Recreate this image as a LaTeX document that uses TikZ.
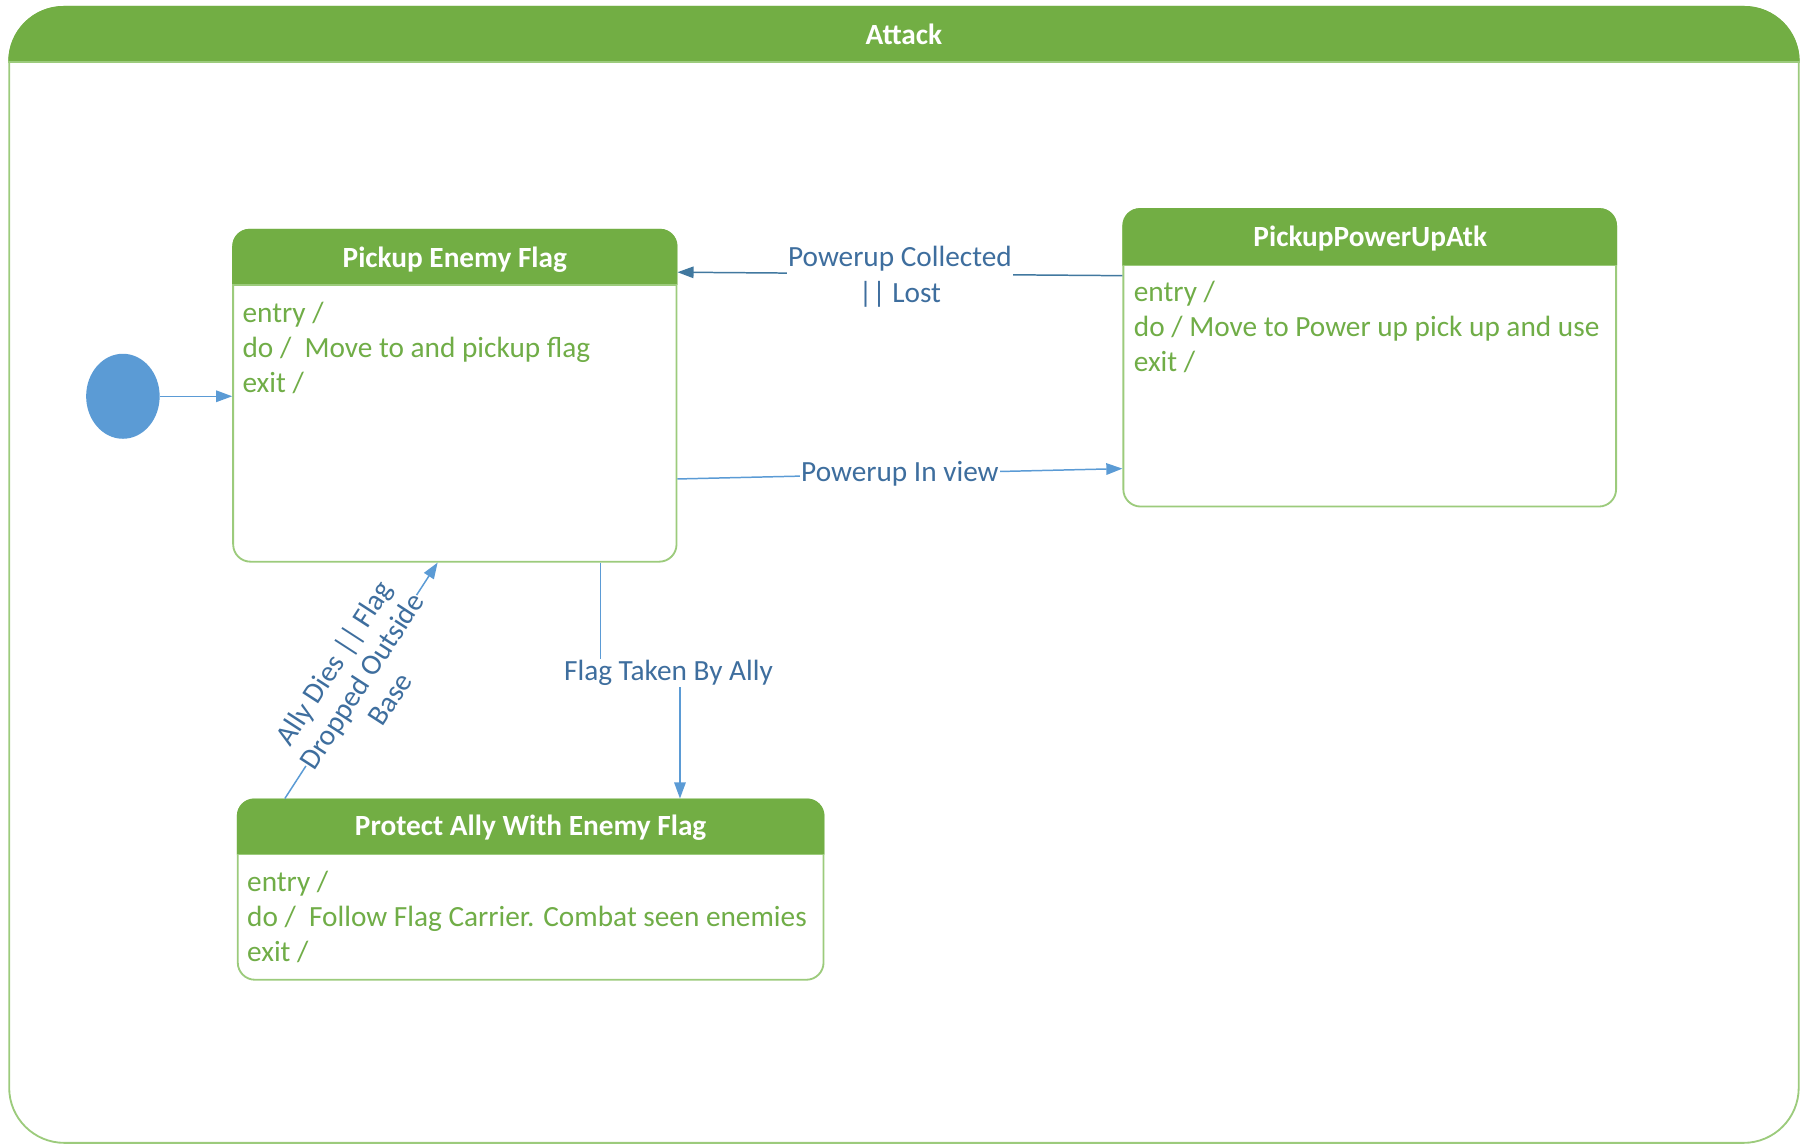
\documentclass[tikz,border=0pt]{standalone}
\usepackage{fontspec}
\setmainfont{Carlito}
\usetikzlibrary{arrows.meta,shapes.geometric}
\definecolor{hdrgreen}{HTML}{72AE44}
\definecolor{edgegreen}{HTML}{9CCB7C}
\definecolor{txtgreen}{HTML}{70AD47}
\definecolor{lineblue}{HTML}{5B9BD5}
\definecolor{darkblue}{HTML}{41789F}
\definecolor{lblblue}{HTML}{3E6E9E}
\definecolor{initblue}{HTML}{5B9BD5}

\begin{document}
\begin{tikzpicture}[x=1pt,y=-1pt,
  statebox/.style={draw=edgegreen, line width=1.6pt, rounded corners=15pt, inner sep=0pt, fill=white},
  hdrtext/.style={text=white, font=\fontsize{25.5}{30}\selectfont\bfseries, inner sep=0pt},
  bodytext/.style={text=txtgreen, font=\fontsize{25.5}{30.5}\selectfont, align=left, inner sep=0pt, anchor=north west},
  conn/.style={draw=lineblue, line width=1.3pt, -{Triangle[length=14pt,width=10pt]}},
  lbl/.style={fill=white, text=lblblue, font=\fontsize{25.5}{31}\selectfont, inner sep=1pt}
]
\useasboundingbox (0,0) rectangle (1568,996);

% outer composite state
\node[draw=edgegreen, line width=1.6pt, rounded corners=48pt, minimum width=1558pt,
      minimum height=989pt, inner sep=0pt] (attack) at (787,500.5) {};
\fill[hdrgreen] (attack.west |- 0,54) {[rounded corners=48pt] -- (attack.north west) -- (attack.north east)} -- (attack.east |- 0,54) -- cycle;
\draw[edgegreen, line width=1.2pt] (attack.west |- 0,54) -- (attack.east |- 0,54);
\node[hdrtext] (attack-title) at (787,30) {Attack};

% Pickup Enemy Flag
\node[statebox, minimum width=386pt, minimum height=289pt] (pef) at (396,344.5) {};
\fill[hdrgreen] (pef.west |- 0,248) {[rounded corners=15pt] -- (pef.north west) -- (pef.north east)} -- (pef.east |- 0,248) -- cycle;
\draw[edgegreen, line width=1.2pt] (pef.west |- 0,248) -- (pef.east |- 0,248);
\node[hdrtext] (pef-title) at (396,226) {Pickup Enemy Flag};
\node[bodytext] (pef-body) at (211,262.5) {entry /\\do /~~Move to and pickup flag\\exit /};

% PickupPowerUpAtk
\node[statebox, minimum width=429pt, minimum height=259pt] (ppu) at (1192.5,311.5) {};
\fill[hdrgreen] (ppu.west |- 0,231) {[rounded corners=15pt] -- (ppu.north west) -- (ppu.north east)} -- (ppu.east |- 0,231) -- cycle;
\draw[edgegreen, line width=1.2pt] (ppu.west |- 0,231) -- (ppu.east |- 0,231);
\node[hdrtext] (ppu-title) at (1193,208) {PickupPowerUpAtk};
\node[bodytext] (ppu-body) at (987,244.5) {entry /\\do / Move to Power up pick up and use\\exit /};

% Protect Ally With Enemy Flag
\node[statebox, minimum width=510pt, minimum height=157pt] (prot) at (462,774.5) {};
\fill[hdrgreen] (prot.west |- 0,744) {[rounded corners=15pt] -- (prot.north west) -- (prot.north east)} -- (prot.east |- 0,744) -- cycle;
\draw[edgegreen, line width=1.2pt] (prot.west |- 0,744) -- (prot.east |- 0,744);
\node[hdrtext] (prot-title) at (462,721) {Protect Ally With Enemy Flag};
\node[bodytext] (prot-body) at (215,758.5) {entry /\\do /~~Follow Flag Carrier. Combat seen enemies\\exit /};

% initial pseudo-state
\node[ellipse, fill=initblue, minimum width=64pt, minimum height=74pt, inner sep=0pt] (init) at (107,345) {};
\draw[conn] (init.east) -- (pef.west |- init.east);

% transitions
\draw[conn, draw=darkblue] (ppu.west |- 0,240) -- node[lbl, align=center, yshift=-2.5pt] (lbl-collected) {Powerup Collected\\|| Lost} (pef.east |- 0,237);
\draw[conn] (pef.east |- 0,417) -- node[lbl] (lbl-inview) {Powerup In view} (ppu.west |- 0,408);

\node[lbl] (lbl-taken) at (582,586) {Flag Taken By Ally};
\draw[lineblue, line width=1.3pt] (pef.south -| 523,0) -- (lbl-taken.north -| 523,0);
\draw[conn] (lbl-taken.south -| 592,0) -- (prot.north -| 592,0);

\draw[conn] (prot.north -| 248,0) -- node[lbl, sloped, align=center, inner sep=0pt, font=\fontsize{25.5}{29}\selectfont] (lbl-dies) {Ally Dies || Flag\\Dropped Outside\\Base} (pef.south -| 381,0);
\end{tikzpicture}
\end{document}
